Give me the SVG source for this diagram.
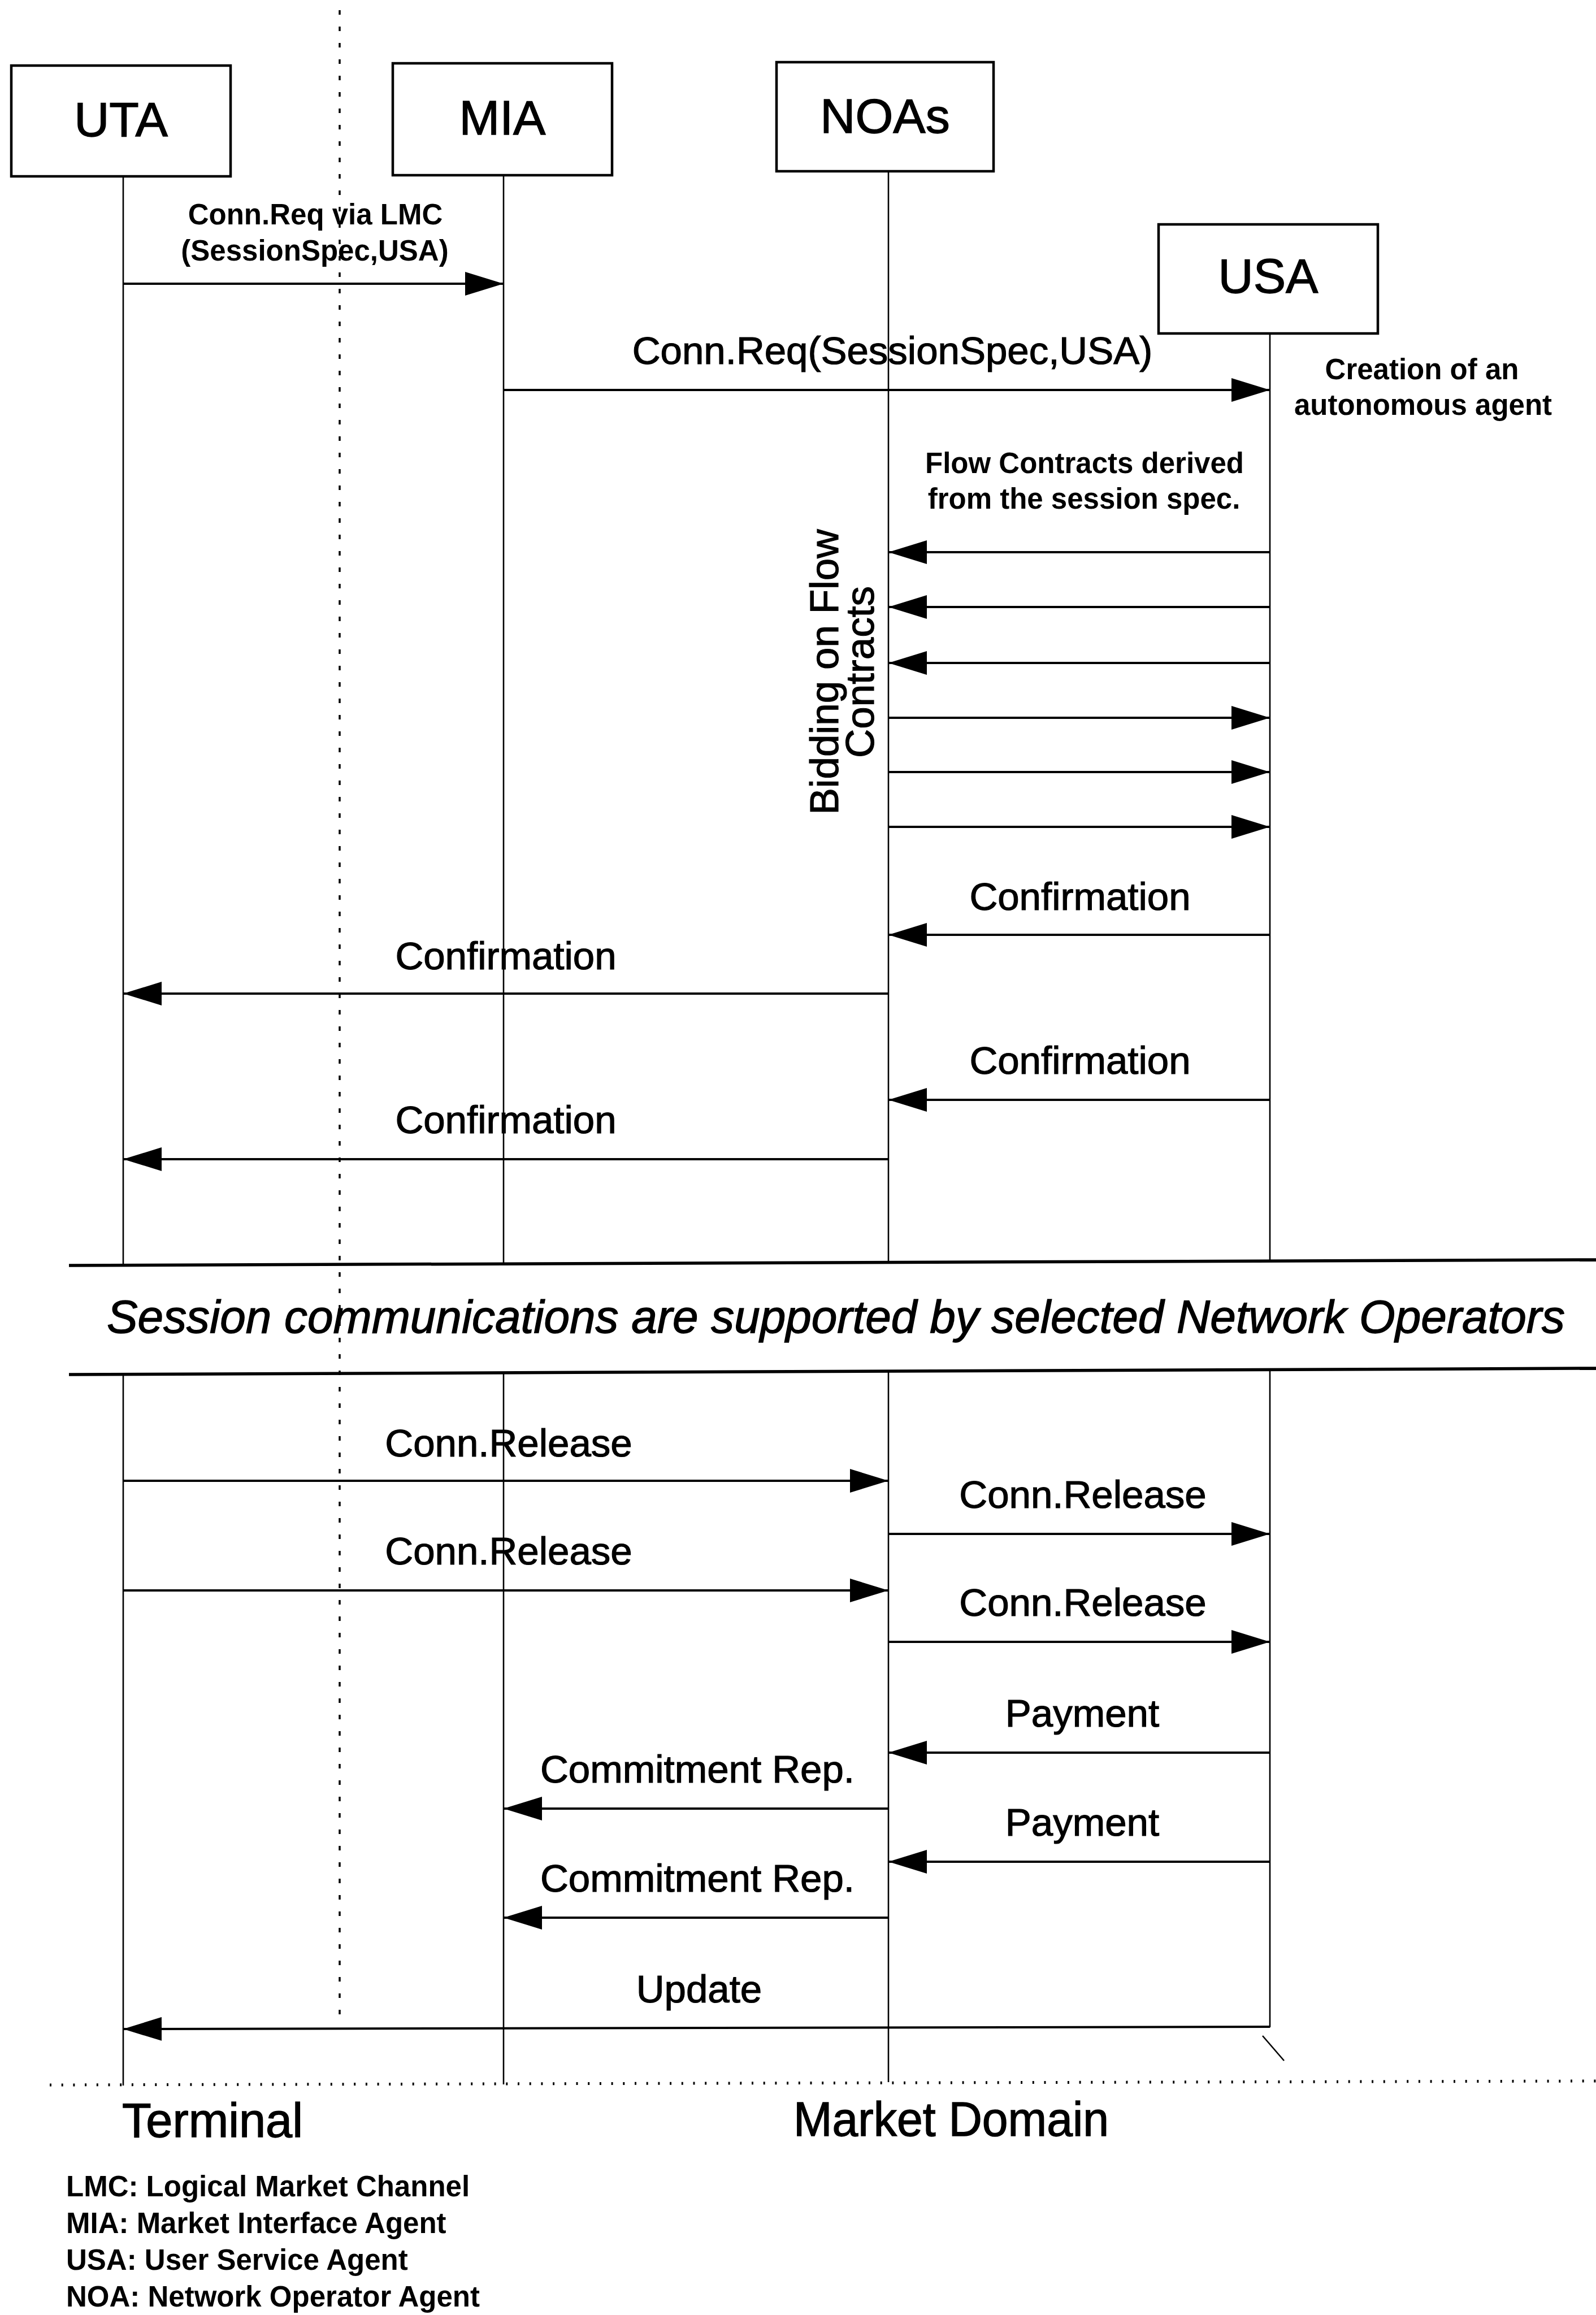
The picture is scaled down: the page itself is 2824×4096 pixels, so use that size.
<svg xmlns="http://www.w3.org/2000/svg" width="2824" height="4096" viewBox="0 0 2824 4096">
  <defs>
    <marker id="arrowhead" markerUnits="userSpaceOnUse" markerWidth="68" markerHeight="42" viewBox="0 0 68 42" refX="68" refY="21" orient="auto">
      <path d="M0,0 L68,21 L0,42 Z" fill="#000"/>
    </marker>
  </defs>
  <style>
    .box{fill:#fff;stroke:#000;stroke-width:4.5}
    .life{stroke:#000;stroke-width:2.6;fill:none}
    .sep{stroke:#000;stroke-width:5.5;fill:none}
    .msg{stroke:#000;stroke-width:4;fill:none;marker-end:url(#arrowhead)}
    .vdots{stroke:#000;stroke-width:3.5;stroke-dasharray:8 21;fill:none}
    .hdots{stroke:#000;stroke-width:5;stroke-dasharray:3 17.7;fill:none}
    text{font-family:"Liberation Sans",Arial,Helvetica,sans-serif;fill:#000}
    .big{font-size:86px;text-anchor:middle;stroke:#000;stroke-width:1.4}
    .mid{font-size:69px;text-anchor:middle;stroke:#000;stroke-width:1.2}
    .small{font-size:51px;font-weight:bold;text-anchor:middle}
    .side{font-size:71px;text-anchor:middle;stroke:#000;stroke-width:1.2}
    .legend{font-size:51px;font-weight:bold}
    .heavy{stroke:#000;stroke-width:1.4}
  </style>

  <rect x="0" y="0" width="2824" height="4096" fill="#fff"/>

  <!-- terminal / market boundary markers -->
  <g id="boundaries">
    <line class="vdots" x1="601" y1="18" x2="601" y2="3585"/>
    <line class="hdots" x1="88" y1="3689" x2="2824" y2="3682"/>
  </g>

  <!-- lifelines -->
  <g id="lifelines">
    <line class="life" x1="218" y1="312" x2="218" y2="2237"/>
    <line class="life" x1="218" y1="2432" x2="218" y2="3690"/>
    <line class="life" x1="891" y1="310" x2="891" y2="2236"/>
    <line class="life" x1="891" y1="2430" x2="891" y2="3688"/>
    <line class="life" x1="1572" y1="303" x2="1572" y2="2234"/>
    <line class="life" x1="1572" y1="2428" x2="1572" y2="3684"/>
    <line class="life" x1="2247" y1="590" x2="2247" y2="2231"/>
    <line class="life" x1="2247" y1="2424" x2="2247" y2="3587"/>
    <line class="life" x1="2234" y1="3602" x2="2272" y2="3646"/>
  </g>

  <!-- agents -->
  <g id="node-uta">
    <rect class="box" x="20" y="116" width="388" height="196"/>
    <text class="big" x="214" y="241">UTA</text>
  </g>
  <g id="node-mia">
    <rect class="box" x="695" y="112" width="388" height="198"/>
    <text class="big" x="889" y="238">MIA</text>
  </g>
  <g id="node-noas">
    <rect class="box" x="1374" y="110" width="384" height="193"/>
    <text class="big" x="1566" y="235">NOAs</text>
  </g>
  <g id="node-usa">
    <rect class="box" x="2050" y="397" width="388" height="193"/>
    <text class="big" x="2244" y="518">USA</text>
  </g>

  <!-- messages -->
  <g id="connectors">
    <line class="msg" x1="218" y1="502" x2="891" y2="502"/>
    <line class="msg" x1="891" y1="690" x2="2247" y2="690"/>

    <line class="msg" x1="2247" y1="977" x2="1572" y2="977"/>
    <line class="msg" x1="2247" y1="1074" x2="1572" y2="1074"/>
    <line class="msg" x1="2247" y1="1173" x2="1572" y2="1173"/>
    <line class="msg" x1="1572" y1="1270" x2="2247" y2="1270"/>
    <line class="msg" x1="1572" y1="1366" x2="2247" y2="1366"/>
    <line class="msg" x1="1572" y1="1463" x2="2247" y2="1463"/>

    <line class="msg" x1="2247" y1="1654" x2="1572" y2="1654"/>
    <line class="msg" x1="1572" y1="1758" x2="218" y2="1758"/>
    <line class="msg" x1="2247" y1="1946" x2="1572" y2="1946"/>
    <line class="msg" x1="1572" y1="2051" x2="218" y2="2051"/>

    <line class="msg" x1="218" y1="2620" x2="1572" y2="2620"/>
    <line class="msg" x1="1572" y1="2714" x2="2247" y2="2714"/>
    <line class="msg" x1="218" y1="2814" x2="1572" y2="2814"/>
    <line class="msg" x1="1572" y1="2905" x2="2247" y2="2905"/>

    <line class="msg" x1="2247" y1="3101" x2="1572" y2="3101"/>
    <line class="msg" x1="1572" y1="3200" x2="891" y2="3200"/>
    <line class="msg" x1="2247" y1="3294" x2="1572" y2="3294"/>
    <line class="msg" x1="1572" y1="3393" x2="891" y2="3393"/>

    <line class="msg" x1="2247" y1="3586" x2="218" y2="3590"/>
  </g>

  <!-- message labels -->
  <g id="labels">
    <text class="small" x="558" y="397">Conn.Req via LMC</text>
    <text class="small" x="557" y="461">(SessionSpec,USA)</text>
    <text class="mid" x="1579" y="644">Conn.Req(SessionSpec,USA)</text>
    <text class="small" x="2516" y="671">Creation of an</text>
    <text class="small" x="2518" y="734">autonomous agent</text>
    <text class="small" x="1919" y="837">Flow Contracts derived</text>
    <text class="small" x="1918" y="900">from the session spec.</text>
    <text class="side" transform="translate(1483,1189) rotate(-90)">Bidding on Flow</text>
    <text class="side" transform="translate(1546,1189) rotate(-90)">Contracts</text>

    <text class="mid" x="1911" y="1610">Confirmation</text>
    <text class="mid" x="895" y="1715">Confirmation</text>
    <text class="mid" x="1911" y="1900">Confirmation</text>
    <text class="mid" x="895" y="2005">Confirmation</text>

    <text class="mid" x="900" y="2577">Conn.Release</text>
    <text class="mid" x="1916" y="2668">Conn.Release</text>
    <text class="mid" x="900" y="2768">Conn.Release</text>
    <text class="mid" x="1916" y="2859">Conn.Release</text>
    <text class="mid" x="1915" y="3055">Payment</text>
    <text class="mid" x="1234" y="3154">Commitment Rep.</text>
    <text class="mid" x="1915" y="3248">Payment</text>
    <text class="mid" x="1234" y="3347">Commitment Rep.</text>
    <text class="mid" x="1237" y="3543">Update</text>
  </g>

  <!-- session phase band -->
  <g id="session-band">
    <line class="sep" x1="122" y1="2239" x2="2824" y2="2229"/>
    <line class="sep" x1="122" y1="2432" x2="2824" y2="2421"/>
    <text class="heavy" x="189" y="2358" font-size="82" font-style="italic" textLength="2580" lengthAdjust="spacingAndGlyphs">Session communications are supported by selected Network Operators</text>
  </g>

  <!-- domains and abbreviations -->
  <g id="footer">
    <text class="heavy" x="216" y="3781" font-size="86" textLength="320" lengthAdjust="spacingAndGlyphs">Terminal</text>
    <text class="heavy" x="1404" y="3779" font-size="86" textLength="558" lengthAdjust="spacingAndGlyphs">Market Domain</text>
    <text class="legend" x="117" y="3886">LMC: Logical Market Channel</text>
    <text class="legend" x="117" y="3951">MIA: Market Interface Agent</text>
    <text class="legend" x="117" y="4016">USA: User Service Agent</text>
    <text class="legend" x="117" y="4081">NOA: Network Operator Agent</text>
  </g>
</svg>
